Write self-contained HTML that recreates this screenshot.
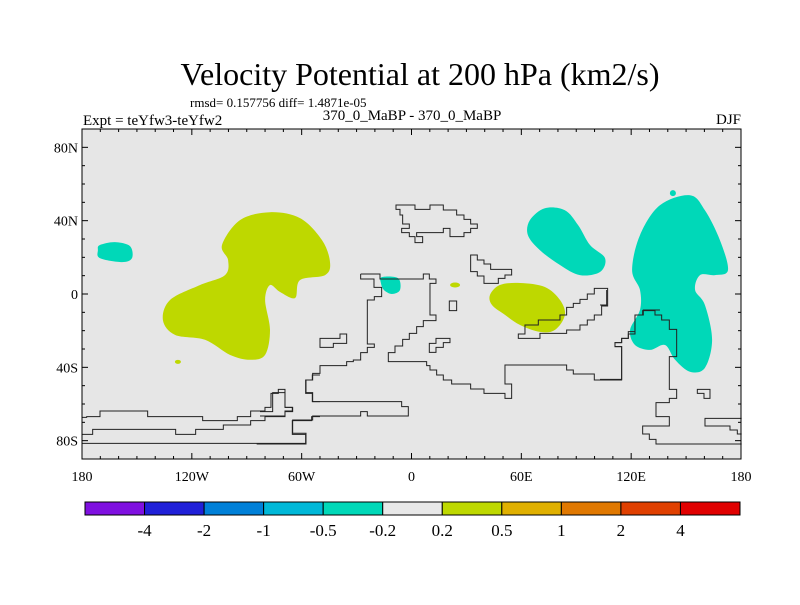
<!DOCTYPE html>
<html><head><meta charset="utf-8"><style>
body{margin:0;background:#fff;width:800px;height:600px;overflow:hidden}
svg text{font-family:"Liberation Serif",serif;fill:#000}
</style></head><body>
<svg id="chart" width="800" height="600" xmlns="http://www.w3.org/2000/svg">
<text x="420" y="85" font-size="32" text-anchor="middle">Velocity Potential at 200 hPa (km2/s)</text>
<text x="190" y="107" font-size="13">rmsd= 0.157756 diff= 1.4871e-05</text>
<text x="83" y="125" font-size="15">Expt = teYfw3-teYfw2</text>
<text x="412" y="120" font-size="15" text-anchor="middle">370_0_MaBP - 370_0_MaBP</text>
<text x="741" y="124" font-size="15" text-anchor="end">DJF</text>
<rect x="82" y="129" width="659" height="330" fill="#e6e6e6"/>
<g id="fills"></g>
<g fill="none" stroke="#222" stroke-width="3">
<g transform="translate(260,200) scale(0.3333)">
<path d="M302 222 H360 V237 H490 V222 H508 V237 H528 V250 H510 V345 H528 V362 H490 V380 H470 V400 H448 V418 H428 V438 H405 V458 H385 V485 H500 V497 H510 V510 H530 V525 H550 V540 H575 V552 H632 V567 H672 V580 H735 V595 H755 V552 H735 V495 H920 V510 H940 V522 H1003 V540 H1085 V440 H1065 V428 H1085 V415 H1105 V395 H1125 V345 H1150 V330 H1200"/>
<path d="M302 222 V237 H342 V262 H365 V290 H343 V300 H322 V432 H343 V442 H322 V458 H302 V480 H280 V485 H260 V497 H180 V520 H158 V540 H138 V578 H158 V605 H425 V620 H445 V648 H322 V635 H302 V648 H158 V660 H98 V700 H138 V732 H-10"/>
<path d="M408 15 H465 V28 H510 V15 H550 V30 H590 V45 H612 V58 H632 V72 H652 V85 H632 V98 H612 V110 H570 V85 H550 V98 H470 V110 H488 V128 H465 V110 H448 V98 H425 V85 H448 V72 H428 V45 H420 V28 H408 Z"/>
<path d="M632 165 H652 V180 H672 V192 H692 V208 H755 V225 H735 V235 H715 V250 H672 V228 H652 V215 H632 Z"/>
<path d="M568 303 H590 V332 H568 Z"/>
<path d="M180 415 H240 V402 H260 V430 H220 V442 H180 Z"/>
<path d="M508 430 H528 V415 H570 V428 H550 V442 H528 V457 H508 Z"/>
<path d="M775 415 V402 H795 V375 H835 V360 H900 V345 H920 V322 H940 V310 H960 V298 H982 V282 H1003 V265 H1043 V318 H1025 V345 H1003 V360 H982 V375 H960 V390 H920 V400 H840 V415 Z"/>
<path d="M0 635 H38 V578 H75 V622 H98 V635 H75 V648 H0"/>
</g>
<g transform="translate(80,330) scale(0.3333)">
<path d="M6 262 H20 V260 H60 V243 H203 V260 H368 V272 H472 V260 H512 V243 H555 V232 H573 V190 H595 V178 H615 V232 H637 V243 H615 V260 H555 V272 H512 V285 H430 V298 H347 V313 H287 V298 H38 V313 H6"/>
<path d="M6 340 H677 V313 H637 V272 H695 V260 H720"/>
<path d="M720 215 H697 V190 H677 V150 H697 V135 H720"/>
</g>
<g transform="translate(600,290) scale(0.3333)">
<path d="M0 268 H65 V170 H45 V158 H65 V145 H85 V132 H105 V75 H128 V62 H165 V75 H185 V90 H208 V118 H230 V200 H208 V298 H230 V325 H208 V338 H168 V380 H208 V408 H128 V432 H148 V448 H168 V462 H425"/>
<path d="M20 0 V45 H0"/>
<path d="M292 298 H330 V325 H312 V310 H292 Z"/>
<path d="M425 385 H315 V408 H390 V420 H412 V432 H425"/>
</g>
</g>
<rect x="82" y="129" width="659" height="330" fill="none" stroke="#000" stroke-width="1"/>
<g id="axes"></g>
<g id="colorbar"></g>
</svg>
<script>
const NS="http://www.w3.org/2000/svg";
const X0=82,X1=741,Y0=129,Y1=459;
function xs(lon){return X0+(lon+180)/360*(X1-X0);}
function ys(lat){return Y0+(90-lat)/180*(Y1-Y0);}
const blobWestGreenLon=[-103.5,-93.7,-77.3,-60.9,-48.9,-44.5,-47.2,-60.9,-63.6,-71.8,-77.3,-80,-77.3,-80,-88.2,-99.2,-112.8,-129.2,-135.8,-131.9,-115.5,-101.9,-100.2];
const blobWestGreenLat=[26.7,40.3,44.6,41.4,29.4,17.4,10.3,7.6,-2.2,1.1,4.9,-3.3,-19.6,-33.2,-35.9,-33.2,-25,-22.3,-14.2,-3.3,4.9,10.3,18.5];
const blobWestCyanLon=[-170.2,-162,-153.8,-152.7,-158.1,-170.2,-171.3];
const blobWestCyanLat=[26.7,28.3,26.1,19.6,17.4,19.6,23.9];
const blobMidGreenLon=[42.9,48.3,59.3,72.9,81.1,83.8,78.4,70.2,59.3,51.1,44];
const blobMidGreenLat=[-0.5,4.9,6,3.8,-3.3,-11.4,-19.6,-20.7,-16.9,-11.4,-6];
const blobAsiaCyanLon=[64.7,72.9,83.8,91,97.5,105.7,103,92,81.1,70.2,63.6];
const blobAsiaCyanLat=[40.3,46.8,45.7,37.6,26.7,19.6,12,10.3,15.8,23.9,32.1];
const blobEastCyanLon=[124.8,135.7,152.1,160.3,168.5,172.9,165.8,157.6,154.9,160.3,164.2,160.3,152.1,144,138.5,130.3,122.1,119.4,124.8,124.8,120.5];
const blobEastCyanLat=[32.1,48.4,53.9,45.7,29.4,13.1,10.3,10.3,2.2,-6,-25,-40.3,-42.4,-35.9,-27.8,-30.5,-27.8,-19.6,-8.7,2.2,13.1];
const blobAtlCyanLon=[-16.2,-7.4,-6.3,-10.7,-15.1,-16.7];
const blobAtlCyanLat=[9.2,8.7,2.2,0,2.2,6];
const dotLon=[-127.6,23.8,142.8];
const dotLat=[-37,4.9,55];
const dotRx=[3,5,3], dotRy=[2,2.5,3];
const dotColor=["#bed800","#bed800","#00d8b8"];
const GREEN="#bed800",CYAN="#00d8b8";
function smooth(lons,lats){
 const p=lons.map((l,i)=>[xs(l),ys(lats[i])]);const n=p.length;
 let d="M"+p[0][0].toFixed(1)+" "+p[0][1].toFixed(1);
 for(let i=0;i<n;i++){const a=p[(i-1+n)%n],b=p[i],c=p[(i+1)%n],e=p[(i+2)%n];
  const c1=[b[0]+(c[0]-a[0])/6,b[1]+(c[1]-a[1])/6],c2=[c[0]-(e[0]-b[0])/6,c[1]-(e[1]-b[1])/6];
  d+=" C"+c1.map(v=>v.toFixed(1)).join(" ")+" "+c2.map(v=>v.toFixed(1)).join(" ")+" "+c[0].toFixed(1)+" "+c[1].toFixed(1);}
 return d+"Z";}
const fills=document.getElementById("fills");
function addBlob(lons,lats,col,name){const el=document.createElementNS(NS,"path");
 el.setAttribute("d",smooth(lons,lats));el.setAttribute("fill",col);
 
 
 fills.appendChild(el);}
addBlob(blobWestGreenLon,blobWestGreenLat,GREEN,"contour-west-positive");
addBlob(blobWestCyanLon,blobWestCyanLat,CYAN,"contour-pacific-negative");
addBlob(blobMidGreenLon,blobMidGreenLat,GREEN,"contour-indian-positive");
addBlob(blobAsiaCyanLon,blobAsiaCyanLat,CYAN,"contour-asia-negative");
addBlob(blobEastCyanLon,blobEastCyanLat,CYAN,"contour-east-negative");
addBlob(blobAtlCyanLon,blobAtlCyanLat,CYAN,"contour-atlantic-negative");
dotLon.forEach((l,i)=>{const el=document.createElementNS(NS,"ellipse");
 el.setAttribute("cx",xs(l));el.setAttribute("cy",ys(dotLat[i]));el.setAttribute("rx",dotRx[i]);el.setAttribute("ry",dotRy[i]);el.setAttribute("fill",dotColor[i]);
 
 
 fills.appendChild(el);});
const lonTicks=[-180,-120,-60,0,60,120,180];
const lonLabels=["180","120W","60W","0","60E","120E","180"];
const latTicks=[80,40,0,-40,-80];
const latLabels=["80N","40N","0","40S","80S"];
const ax=document.getElementById("axes");
function line(x1,y1,x2,y2){const l=document.createElementNS(NS,"line");l.setAttribute("x1",x1);l.setAttribute("y1",y1);l.setAttribute("x2",x2);l.setAttribute("y2",y2);l.setAttribute("stroke","#000");l.setAttribute("stroke-width","1");
 
 
 ax.appendChild(l);}
function txt(x,y,s,anchor,name){const t=document.createElementNS(NS,"text");t.setAttribute("x",x);t.setAttribute("y",y);t.setAttribute("font-size","14");t.setAttribute("text-anchor",anchor);t.textContent=s;
 
 
 ax.appendChild(t);}
for(let lon=-180;lon<=180;lon+=10){const m=lon%60===0;const L=m?6:3;const x=xs(lon);line(x,Y0,x,Y0+L);line(x,Y1,x,Y1-L);}
for(let lat=-90;lat<=90;lat+=10){const m=lat%40===0;const L=m?6:3;const y=ys(lat);line(X0,y,X0+L,y);line(X1,y,X1-L,y);}
lonTicks.forEach((l,i)=>txt(xs(l),481,lonLabels[i],"middle","x-tick-label"));
latTicks.forEach((l,i)=>txt(X0-4,ys(l)+5,latLabels[i],"end","y-tick-label"));
const cbColors=["#7f10e0","#2020d8","#0080d8","#00b8d8","#00d8b8","#e8e8e8","#bed800","#e0b000","#e07800","#e04000","#e00000"];
const cbLabels=["-4","-2","-1","-0.5","-0.2","0.2","0.5","1","2","4"];
const cb=document.getElementById("colorbar");const CX0=85,CX1=740,CY=502,CH=13;const w=(CX1-CX0)/cbColors.length;
cbColors.forEach((c,i)=>{const r=document.createElementNS(NS,"rect");r.setAttribute("x",CX0+i*w);r.setAttribute("y",CY);r.setAttribute("width",w);r.setAttribute("height",CH);r.setAttribute("fill",c);r.setAttribute("stroke","#000");r.setAttribute("stroke-width","1");
 
 
 cb.appendChild(r);});
cbLabels.forEach((s,i)=>{const t=document.createElementNS(NS,"text");t.setAttribute("x",CX0+(i+1)*w);t.setAttribute("y",536);t.setAttribute("font-size","17");t.setAttribute("text-anchor","middle");t.textContent=s;
 
 
 cb.appendChild(t);});
</script>
</body></html>
